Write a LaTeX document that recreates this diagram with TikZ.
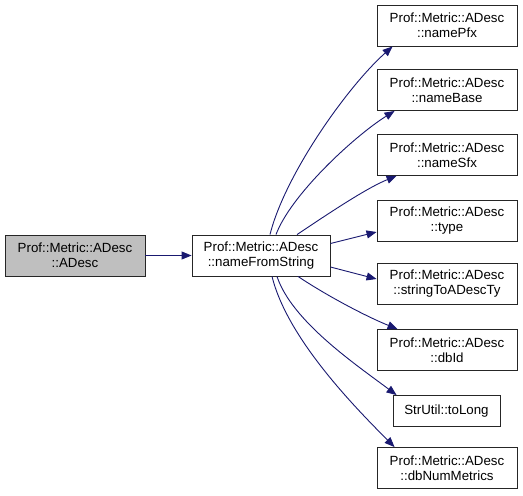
\documentclass[tikz,border=0pt]{standalone}
\usepackage{fontspec}
\setmainfont{Liberation Sans}
\usetikzlibrary{arrows.meta}
\definecolor{edgeblue}{HTML}{191970}
\tikzset{
  fnbox/.style={draw=black!85, fill=white, line width=0.9pt, align=center,
    minimum width=140pt, minimum height=41pt, inner sep=1pt,
    font=\fontsize{13.3}{15}\selectfont},
  curbox/.style={fnbox, fill=black!25},
  callarrow/.style={draw=edgeblue, line width=0.9pt,
    -{Triangle[length=10pt,width=8pt]}},
}
\begin{document}
\begin{tikzpicture}[x=1pt, y=-1pt]
    \useasboundingbox (0,0) rectangle (523,496);

    \node[curbox] (adesc) at (75,255.5) {Prof::Metric::ADesc\\::ADesc};
    \node[fnbox, minimum width=138pt] (fromstr) at (261,255.5) {Prof::Metric::ADesc\\::nameFromString};

    % callees
    \node[fnbox] (pfx)    at (447,25.5)  {Prof::Metric::ADesc\\::namePfx};
    \node[fnbox] (base)   at (447,90)    {Prof::Metric::ADesc\\::nameBase};
    \node[fnbox] (sfx)    at (447,155)   {Prof::Metric::ADesc\\::nameSfx};
    \node[fnbox] (type)   at (447,221)   {Prof::Metric::ADesc\\::type};
    \node[fnbox] (toty)   at (447,284)   {Prof::Metric::ADesc\\::stringToADescTy};
    \node[fnbox] (dbid)   at (447,350)   {Prof::Metric::ADesc\\::dbId};
    \node[fnbox, minimum width=107pt, minimum height=31pt] (tolong) at (446.5,411) {StrUtil::toLong};
    \node[fnbox] (nummet) at (447,468)   {Prof::Metric::ADesc\\::dbNumMetrics};

    \draw[callarrow] (adesc) -- (fromstr);

    \draw[callarrow] ([xshift=9pt]fromstr.north) .. controls +(15,-60) and +(-45,40) .. ([xshift=16pt]pfx.south west);
    \draw[callarrow] ([xshift=15pt]fromstr.north) .. controls +(15,-40) and +(-40,25) .. ([xshift=18pt]base.south west);
    \draw[callarrow] ([xshift=36pt]fromstr.north) .. controls +(30,-20) and +(-30,12) .. ([xshift=20pt]sfx.south west);
    \draw[callarrow] ([yshift=12pt]fromstr.east) -- ([yshift=-11pt]type.west);
    \draw[callarrow] ([yshift=-11.5pt]fromstr.east) -- ([yshift=5pt]toty.west);
    \draw[callarrow] ([xshift=37pt]fromstr.south) .. controls +(30,20) and +(-30,-12) .. ([xshift=21pt]dbid.north west);
    \draw[callarrow] ([xshift=16pt]fromstr.south) .. controls +(15,45) and +(-40,-30) .. ([xshift=4pt]tolong.north west);
    \draw[callarrow] ([xshift=11pt]fromstr.south) .. controls +(15,60) and +(-45,-45) .. ([xshift=18pt]nummet.north west);
\end{tikzpicture}
\end{document}
